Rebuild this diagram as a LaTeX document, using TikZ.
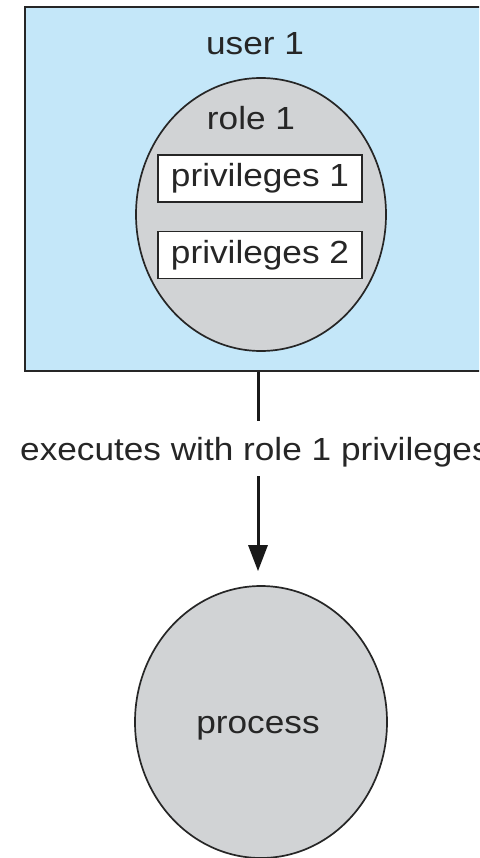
\documentclass[tikz,border=0pt]{standalone}
\usepackage{fontspec}
\setmainfont{Liberation Sans}[FakeStretch=1.1]
\usetikzlibrary{arrows.meta}
\usetikzlibrary{shapes.geometric}
\definecolor{userblue}{HTML}{C4E7F9}
\definecolor{rolegray}{HTML}{D1D3D5}
\tikzset{
  txt/.style={font=\fontsize{32}{36}\selectfont, text=black!85, inner sep=0pt},
  privbox/.style={draw=black!85, line width=1.6pt, fill=white, minimum width=204pt, minimum height=47pt, inner sep=0pt, font=\fontsize{32}{36}\selectfont, text=black!85},
  blob/.style={ellipse, draw=black!85, line width=1.7pt, fill=rolegray, inner sep=0pt},
  conn/.style={line width=3pt, draw=black!90}
}
\begin{document}
\begin{tikzpicture}[x=1pt,y=-1pt]
\useasboundingbox (0,0) rectangle (479,858);
\clip (0,0) rectangle (479,858);
\fill[white] (0,0) rectangle (479,858);
% user box
\node[draw=black!85, line width=1.7pt, fill=userblue, anchor=north west, minimum width=480pt, minimum height=364pt, inner sep=0pt] (user) at (24,6) {};
\node[txt] (usertxt) at (255,44) {user 1};
% role ellipse
\node[blob, minimum width=250pt, minimum height=273pt] (role) at (261,214.5) {};
\node[txt] (roletxt) at (251,118) {role 1};
\node[privbox] (p1) at (260,178.5) {privileges 1};
\node[privbox] (p2) at (260,255) {privileges 2};
% label
\node[txt, anchor=west] (lbl) at (20,452) {executes with role 1 privileges};
% process
\node[blob, minimum width=252pt, minimum height=272pt] (proc) at (261,722) {};
\node[txt] (proctxt) at (258,728) {process};
% connectors
\coordinate (a) at (258,421);
\coordinate (b) at (258,476);
\draw[conn] (user.south -| a) -- (a);
\draw[conn, -{Triangle[length=26pt,width=19pt]}, shorten >=14pt] (b) -- (proc.north -| b);
\end{tikzpicture}
\end{document}
